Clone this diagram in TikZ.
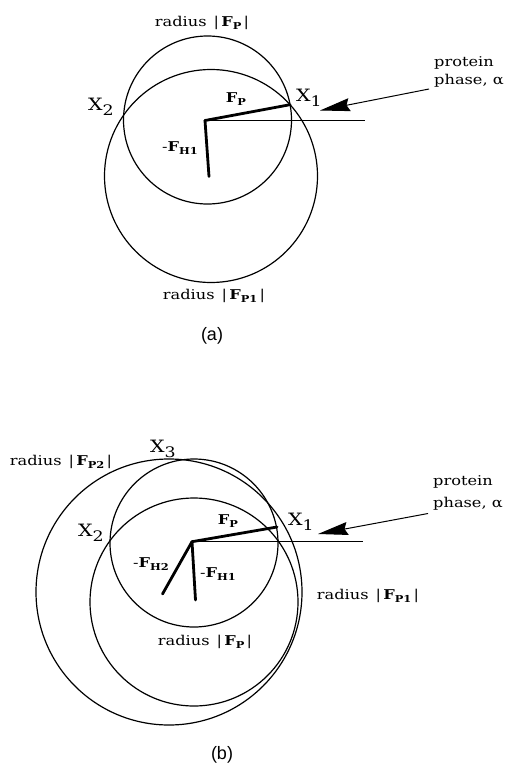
\documentclass[tikz,border=0pt]{standalone}
\usepackage{fontspec}
\setmainfont[FakeStretch=1.2]{DejaVu Serif}
\newfontfamily\capfont{Liberation Sans}
\usetikzlibrary{arrows.meta}
\newcommand\vF[1]{\textbf{F}\raisebox{-3.5pt}{\fontsize{9.5}{9.5}\selectfont\bfseries #1}}
\newcommand\Xs[1]{X\raisebox{-4.5pt}{\fontsize{14.5}{14.5}\selectfont #1}}
\newcommand\rad[1]{radius\hspace{7pt}|\,\vF{#1}\,|}
\begin{document}
\begin{tikzpicture}[x=1pt,y=-1pt,
  circ/.style={line width=1.2pt},
  vec/.style={line width=2.8pt, line cap=round},
  axis/.style={line width=1.2pt},
  lab/.style={font=\fontsize{13.5}{15}\selectfont, inner sep=0pt},
  flab/.style={font=\fontsize{13.5}{15}\selectfont, inner sep=0pt},
  xlab/.style={font=\fontsize{17}{19}\selectfont, inner sep=0pt},
  plab/.style={font=\fontsize{13.5}{15}\selectfont, inner sep=0pt, align=left, anchor=base west},
  caplab/.style={font=\capfont\fontsize{18}{20}\selectfont, inner sep=0pt},
  parrow/.style={line width=1pt, -{Stealth[length=30pt,width=13pt,inset=3pt]}}]
\useasboundingbox (0,0) rectangle (505,766);
% ---------- (a) ----------
\coordinate (Oa) at (205,120.5);
\coordinate (Ca) at (207.5,120);
\coordinate (H1a) at (209,176.5);
\coordinate (C1a) at (211,176);
\coordinate (X1a) at (290,104.7);
\coordinate (Ea) at (365,120.5);
\coordinate (Sa) at (429,89);
\coordinate (Ta) at (320,110.5);
\draw[circ] (Ca) circle[radius=84pt];
\draw[circ] (C1a) circle[radius=106.5pt];
\draw[axis] (Oa) -- (Ea);
\draw[vec] (Oa) -- (X1a);
\draw[vec] (Oa) -- (H1a);
\draw[parrow] (Sa) -- (Ta);
\node[lab] (ra1) at (202,23) {\rad{P}};
\node[lab] (ra2) at (214,296) {\rad{P1}};
\node[xlab] (xa2) at (101,107) {\Xs{2}};
\node[xlab] (xa1) at (309,98) {\Xs{1}};
\node[flab] (fpa) at (236,99) {\vF{P}};
\node[flab] (fha) at (180,148) {-\vF{H1}};
\node[plab] (pa) at (434,84.3) {protein\\[2.5pt]phase, α};
\node[caplab] (capa) at (212,336) {(a)};
% ---------- (b) ----------
\coordinate (Ob) at (192,541.7);
\coordinate (Cb) at (194,543);
\coordinate (C1b) at (194,602);
\coordinate (C2b) at (169,592);
\coordinate (H1b) at (195.5,600);
\coordinate (H2b) at (162.5,594);
\coordinate (X1b) at (277,527);
\coordinate (Eb) at (363,541.7);
\coordinate (Sb) at (428,513.5);
\coordinate (Tb) at (318,534);
\draw[circ] (Cb) circle[radius=84pt];
\draw[circ] (C1b) circle[radius=104pt];
\draw[circ] (C2b) circle[radius=133pt];
\draw[axis] (Ob) -- (Eb);
\draw[vec] (Ob) -- (X1b);
\draw[vec] (Ob) -- (H1b);
\draw[vec] (Ob) -- (H2b);
\draw[parrow] (Sb) -- (Tb);
\node[lab] (rb2) at (61,462) {\rad{P2}};
\node[lab] (rb1) at (368,596) {\rad{P1}};
\node[lab] (rb) at (205,642) {\rad{P}};
\node[xlab] (xb3) at (163,449) {\Xs{3}};
\node[xlab] (xb2) at (91,533) {\Xs{2}};
\node[xlab] (xb1) at (301,522) {\Xs{1}};
\node[flab] (fpb) at (228,521) {\vF{P}};
\node[flab] (fh2b) at (151,564) {-\vF{H2}};
\node[flab] (fh1b) at (218,574) {-\vF{H1}};
\node[plab] (pb) at (433,507) {protein\\[6.5pt]phase, α};
\node[caplab] (capb) at (222,755) {(b)};
\end{tikzpicture}
\end{document}
